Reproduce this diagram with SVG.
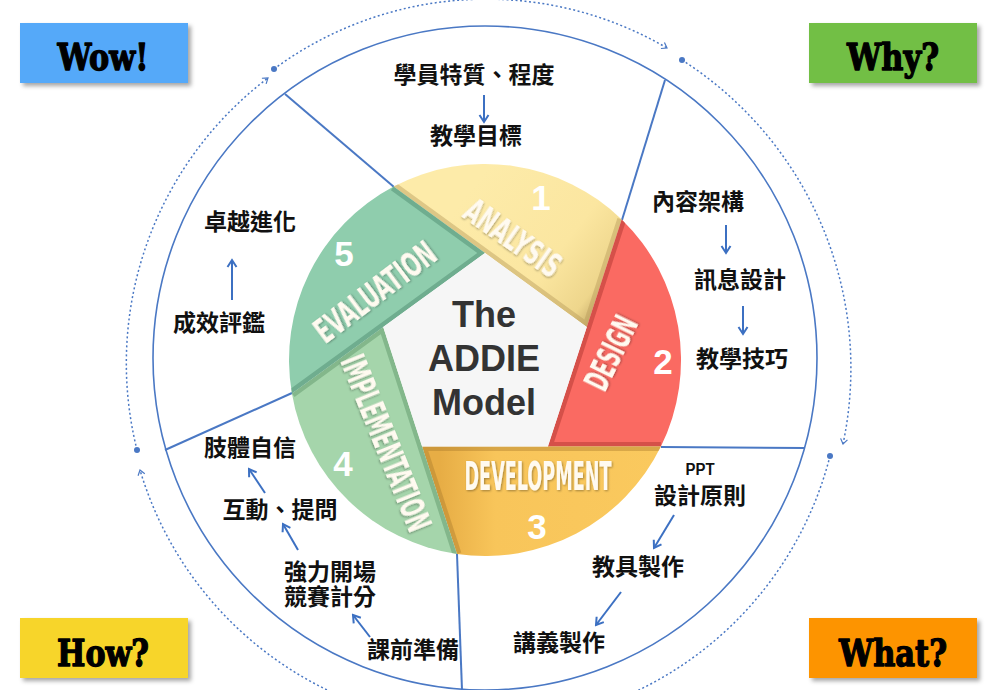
<svg xmlns="http://www.w3.org/2000/svg" xmlns:xlink="http://www.w3.org/1999/xlink" width="990" height="690" viewBox="0 0 990 690">
<style>
.cjk{font-family:"Noto Sans CJK TC","Noto Sans CJK SC",sans-serif;font-weight:700;font-size:23px;fill:#111;text-anchor:middle}
.corner{font-family:"DejaVu Serif","Liberation Serif",serif;font-weight:900;font-size:37px;fill:#000;stroke:#000;stroke-width:1.4;stroke-linejoin:round;text-anchor:middle}
.lbl{font-family:"Liberation Sans Narrow","DejaVu Sans Condensed","Liberation Sans",sans-serif;font-weight:700;font-size:34px;fill:#fffaf0;text-anchor:middle}
.num{font-family:"Liberation Sans",Arial,sans-serif;font-weight:700;font-size:35px;fill:#fff;text-anchor:middle}
.ctr{font-family:"Liberation Sans",Arial,sans-serif;font-weight:700;font-size:36px;fill:#333;text-anchor:middle}
.arr{stroke:#3c70c2;stroke-width:2;fill:none;marker-end:url(#ah)}
.spoke{stroke:#4a78c4;stroke-width:2;fill:none}
.dots{stroke:#4a78c4;stroke-width:1.5;stroke-dasharray:2 2.5;fill:none;marker-start:url(#dot);marker-end:url(#dh)}
.edge{fill:none;stroke-width:9}
</style>
<defs>
<filter id="sh" x="-10%" y="-10%" width="125%" height="140%"><feDropShadow dx="3" dy="3" stdDeviation="2" flood-color="#000" flood-opacity="0.35"/></filter>
<filter id="tsh" x="-10%" y="-30%" width="120%" height="160%"><feDropShadow dx="1" dy="1" stdDeviation="1" flood-color="#000" flood-opacity="0.35"/></filter>
<marker id="ah" markerWidth="12" markerHeight="12" refX="10" refY="6" orient="auto" markerUnits="userSpaceOnUse"><path d="M3,1.5 L10,6 L3,10.5" fill="none" stroke="#3c70c2" stroke-width="2"/></marker>
<marker id="dh" markerWidth="10" markerHeight="10" refX="7" refY="5" orient="auto" markerUnits="userSpaceOnUse"><path d="M2,1.5 L7,5 L2,8.5" fill="none" stroke="#4a78c4" stroke-width="1.2"/></marker>
<marker id="dot" markerWidth="8" markerHeight="8" refX="4" refY="4" markerUnits="userSpaceOnUse"><circle cx="4" cy="4" r="3" fill="#4a78c4"/></marker>
<linearGradient id="gA" gradientUnits="userSpaceOnUse" x1="470" y1="190" x2="612" y2="300"><stop offset="0" stop-color="#fdeba9"/><stop offset="0.6" stop-color="#fbe6a0"/><stop offset="0.88" stop-color="#eed68c"/><stop offset="1" stop-color="#c7ac6a"/></linearGradient>
<linearGradient id="gD" gradientUnits="userSpaceOnUse" x1="440" y1="470" x2="660" y2="470"><stop offset="0" stop-color="#e7ad45"/><stop offset="0.25" stop-color="#f8c55a"/><stop offset="1" stop-color="#fac95e"/></linearGradient>
<path id="segA" d="M485,253 L393.6,186.6 A196,196 0 0 1 621.7,219.5 L586.8,326.9 Z"/>
<path id="segB" d="M586.8,326.9 L621.7,219.5 A196,196 0 0 1 660.9,446.5 L547.9,446.6 Z"/>
<path id="segC" d="M547.9,446.6 L660.9,446.5 A196,196 0 0 1 457,554 L422.1,446.6 Z"/>
<path id="segD" d="M422.1,446.6 L457,554 A196,196 0 0 1 291.9,393.4 L383.2,326.9 Z"/>
<path id="segE" d="M383.2,326.9 L291.9,393.4 A196,196 0 0 1 393.6,186.6 L485,253 Z"/>
<clipPath id="cA"><use xlink:href="#segA"/></clipPath>
<clipPath id="cB"><use xlink:href="#segB"/></clipPath>
<clipPath id="cC"><use xlink:href="#segC"/></clipPath>
<clipPath id="cD"><use xlink:href="#segD"/></clipPath>
<clipPath id="cE"><use xlink:href="#segE"/></clipPath>
</defs>
<rect width="990" height="690" fill="#fff"/>

<g id="connectors">
<circle cx="485" cy="358" r="332" fill="none" stroke="#4a78c4" stroke-width="1.6"/>
<path class="spoke" d="M285,94 L394,187"/>
<path class="spoke" d="M665,80 L622,220"/>
<path class="spoke" d="M805,448 L661,447"/>
<path class="spoke" d="M165,450 L292,393"/>
<path class="spoke" d="M457,554 L462,690"/>
<path class="dots" d="M137,450 A358,358 0 0 1 268,78"/>
<path class="dots" d="M274,69 A358,358 0 0 1 667,48"/>
<path class="dots" d="M682,60 A366,366 0 0 1 843,444"/>
<path class="dots" d="M830,456 A358,358 0 0 1 140,470"/>
<path class="arr" d="M484,95 L484,122"/>
<path class="arr" d="M726,225 L726,253"/>
<path class="arr" d="M743,306 L743,334"/>
<path class="arr" d="M232,300 L232,260"/>
<path class="arr" d="M265,493 L249,469"/>
<path class="arr" d="M298,550 L283,524"/>
<path class="arr" d="M370,637 L353,615"/>
<path class="arr" d="M674,515 L654,548"/>
<path class="arr" d="M621,592 L596,625"/>
</g>

<g id="addie-wheel">
<g id="analysis">
<use xlink:href="#segA" fill="url(#gA)"/>
<path class="edge" clip-path="url(#cA)" d="M393.6,186.6 L586.8,326.9 L621.7,219.5" stroke="#b89c5c" stroke-opacity="0.45"/>
<text class="num" x="541" y="210">1</text>
<text class="lbl" transform="translate(513,238) rotate(35)" x="0" y="12" textLength="110" lengthAdjust="spacingAndGlyphs" filter="url(#tsh)">ANALYSIS</text>
</g>
<g id="design">
<use xlink:href="#segB" fill="#fa6a62"/>
<path class="edge" clip-path="url(#cB)" d="M621.7,219.5 L547.9,446.6 L660.9,446.5" stroke="#a8302c" stroke-opacity="0.45"/>
<text class="num" x="663" y="374">2</text>
<text class="lbl" transform="translate(611,353) rotate(-64)" x="0" y="12" textLength="78" lengthAdjust="spacingAndGlyphs" filter="url(#tsh)">DESIGN</text>
</g>
<g id="development">
<use xlink:href="#segC" fill="url(#gD)"/>
<path class="edge" clip-path="url(#cC)" d="M660.9,446.5 L422.1,446.6 L457,554" stroke="#a8782a" stroke-opacity="0.4"/>
<text class="num" x="537" y="539">3</text>
<text class="lbl" x="538" y="490" style="font-size:39px" textLength="147" lengthAdjust="spacingAndGlyphs" filter="url(#tsh)">DEVELOPMENT</text>
</g>
<g id="implementation">
<use xlink:href="#segD" fill="#a5d5ab"/>
<path class="edge" clip-path="url(#cD)" d="M457,554 L383.2,326.9 L291.9,393.4" stroke="#4f8a5c" stroke-opacity="0.4"/>
<text class="num" x="343" y="476">4</text>
<text class="lbl" transform="translate(386,443) rotate(68)" x="0" y="12" textLength="187" lengthAdjust="spacingAndGlyphs" filter="url(#tsh)">IMPLEMENTATION</text>
</g>
<g id="evaluation">
<use xlink:href="#segE" fill="#8fcdad"/>
<path class="edge" clip-path="url(#cE)" d="M291.9,393.4 L485,253 L393.6,186.6" stroke="#3f7d62" stroke-opacity="0.4"/>
<text class="num" x="344" y="266">5</text>
<text class="lbl" transform="translate(375,292) rotate(-37)" x="0" y="12" textLength="143" lengthAdjust="spacingAndGlyphs" filter="url(#tsh)">EVALUATION</text>
</g>
<g id="center">
<path d="M485,253 L586.8,326.9 L547.9,446.6 L422.1,446.6 L383.2,326.9 Z" fill="#f6f6f6"/>
<text class="ctr" x="484" y="327">The</text>
<text class="ctr" x="484" y="371">ADDIE</text>
<text class="ctr" x="484" y="415">Model</text>
</g>
</g>

<g id="box-wow"><rect x="20" y="23" width="168" height="60" fill="#55a9f9" filter="url(#sh)"/><text class="corner" x="103" y="70" textLength="91" lengthAdjust="spacingAndGlyphs">Wow!</text></g>
<g id="box-why"><rect x="809" y="23" width="168" height="60" fill="#72bf44" filter="url(#sh)"/><text class="corner" x="893" y="70" textLength="92" lengthAdjust="spacingAndGlyphs">Why?</text></g>
<g id="box-how"><rect x="20" y="618" width="168" height="60" fill="#f7d52a" filter="url(#sh)"/><text class="corner" x="103" y="666" textLength="92" lengthAdjust="spacingAndGlyphs">How?</text></g>
<g id="box-what"><rect x="809" y="618" width="168" height="60" fill="#fd9400" filter="url(#sh)"/><text class="corner" x="893" y="666" textLength="108" lengthAdjust="spacingAndGlyphs">What?</text></g>

<g id="analysis-notes">
<text class="cjk" x="474" y="83">學員特質、程度</text>
<text class="cjk" x="476" y="144">教學目標</text>
</g>
<g id="design-notes">
<text class="cjk" x="698" y="210">內容架構</text>
<text class="cjk" x="740" y="288">訊息設計</text>
<text class="cjk" x="742" y="367">教學技巧</text>
</g>
<g id="development-notes">
<text x="700" y="475" style="font-family:'Liberation Sans',Arial,sans-serif;font-weight:700;font-size:16px;fill:#111;text-anchor:middle" textLength="29" lengthAdjust="spacingAndGlyphs">PPT</text>
<text class="cjk" x="700" y="504">設計原則</text>
<text class="cjk" x="638" y="575">教具製作</text>
<text class="cjk" x="559" y="651">講義製作</text>
</g>
<g id="implementation-notes">
<text class="cjk" x="250" y="456">肢體自信</text>
<text class="cjk" x="280" y="518">互動、提問</text>
<text class="cjk" x="330" y="580">強力開場</text>
<text class="cjk" x="330" y="605">競賽計分</text>
<text class="cjk" x="413" y="658">課前準備</text>
</g>
<g id="evaluation-notes">
<text class="cjk" x="250" y="230">卓越進化</text>
<text class="cjk" x="219" y="331">成效評鑑</text>
</g>
</svg>
